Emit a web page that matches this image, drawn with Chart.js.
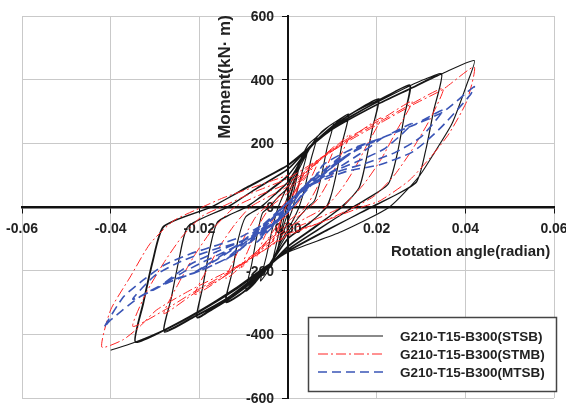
<!DOCTYPE html>
<html>
<head>
<meta charset="utf-8">
<title>Moment - rotation hysteresis</title>
<script src="https://cdn.jsdelivr.net/npm/chart.js@4.4.1/dist/chart.umd.min.js"></script>
<style>
  html, body { margin: 0; padding: 0; background: #fff; }
  #wrap { width: 566px; height: 403px; }
</style>
</head>
<body>
<div id="wrap"><canvas id="loopChart" width="566" height="403"></canvas></div>
<script>
'use strict';
/* ---------------------------------------------------------------- DATA */
const seriesNames = ['G210-T15-B300(STSB)', 'G210-T15-B300(STMB)', 'G210-T15-B300(MTSB)'];
const xTicks = [-0.06, -0.04, -0.02, 0, 0.02, 0.04, 0.06];
const yTicks = [-600, -400, -200, 0, 200, 400, 600];

// [rotation (rad), moment (kN·m)] for the STSB specimen, in loading order
const stsbLoops = [
  [0,0],[0.0012,65],[0.0025,128],[0.0014,55],[0.0004,0],[-0.001,-60],[-0.0025,-148],[-0.0013,-60],[-0.0003,0],[0.001,60],[0.0026,132],
  [0.0043,170],[0.003,100],[0.0016,25],[0.0008,-15],[-0.0015,-95],[-0.0038,-190],[-0.0026,-115],[-0.0012,-25],[-0.0004,20],[0.0015,90],[0.0042,166],
  [0.0066,222],[0.0052,150],[0.0038,60],[0.0025,0],[0.001,-45],[-0.002,-120],[-0.0045,-200],[-0.0062,-232],[-0.0048,-150],[-0.0034,-60],[-0.0022,0],[-0.0008,45],[0.002,125],[0.0045,195],[0.0065,220],
  [0.0102,262],[0.0088,185],[0.0075,95],[0.006,20],[0.0045,0],[0.002,-40],[0,-80],[-0.004,-175],[-0.0075,-240],[-0.0095,-264],[-0.0082,-180],[-0.007,-90],[-0.0058,-20],[-0.0042,0],[-0.002,35],[0,60],[0.004,170],[0.0075,235],[0.0103,264],
  [0.0136,290],[0.0122,200],[0.011,110],[0.0098,40],[0.0086,0],[0.005,-50],[0,-100],[-0.005,-200],[-0.01,-268],[-0.014,-300],[-0.0125,-200],[-0.0112,-100],[-0.0095,-30],[-0.006,0],[-0.003,40],[0,80],[0.005,190],[0.01,255],[0.0137,292],
  [0.0123,205],[0.0111,118],[0.0099,45],[0.0088,0],[0.005,-48],[0,-98],[-0.005,-195],[-0.01,-265],[-0.0141,-298],[-0.0126,-205],[-0.0113,-105],[-0.0096,-32],[-0.0062,0],[-0.003,38],[0,78],[0.005,185],[0.01,250],[0.0136,288],
  [0.017,315],[0.0204,338],[0.019,245],[0.0175,140],[0.016,60],[0.012,0],[0.006,-65],[0,-125],[-0.006,-212],[-0.012,-278],[-0.017,-322],[-0.0205,-348],[-0.0192,-250],[-0.0176,-130],[-0.0158,-45],[-0.0093,0],[-0.005,45],[0,100],[0.005,190],[0.01,252],[0.015,300],[0.0205,340],
  [0.0191,250],[0.0176,145],[0.0161,62],[0.0122,0],[0.006,-62],[0,-122],[-0.006,-208],[-0.012,-275],[-0.017,-318],[-0.0206,-346],[-0.0193,-255],[-0.0177,-135],[-0.0159,-48],[-0.0095,0],[-0.005,42],[0,98],[0.005,188],[0.01,250],[0.015,298],[0.0204,336],
  [0.024,362],[0.0275,383],[0.0262,285],[0.0246,165],[0.0225,70],[0.0146,0],[0.007,-70],[0,-135],[-0.007,-218],[-0.014,-292],[-0.021,-345],[-0.0279,-393],[-0.0263,-285],[-0.0245,-160],[-0.0225,-60],[-0.0135,0],[-0.007,60],[0,120],[0.005,192],[0.01,250],[0.015,292],[0.02,330],[0.0276,382],
  [0.0263,290],[0.0247,170],[0.0226,72],[0.0148,0],[0.007,-68],[0,-132],[-0.007,-214],[-0.014,-288],[-0.021,-342],[-0.028,-390],[-0.0264,-290],[-0.0246,-165],[-0.0226,-62],[-0.0137,0],[-0.007,58],[0,118],[0.005,190],[0.01,248],[0.015,290],[0.02,328],[0.0274,380],
  [0.031,402],[0.0347,418],[0.0328,300],[0.031,175],[0.0288,75],[0.0187,0],[0.009,-72],[0,-140],[-0.006,-200],[-0.012,-262],[-0.02,-330],[-0.0279,-388],[-0.0344,-425],[-0.0326,-305],[-0.0305,-175],[-0.028,-62],[-0.0172,0],[-0.009,65],[0,133],[0.005,190],[0.01,245],[0.015,285],[0.02,322],[0.0275,372],[0.0346,416],
  [0.0329,305],[0.0311,180],[0.0289,78],[0.019,0],[0.009,-70],[0,-138],[-0.006,-198],[-0.012,-260],[-0.02,-328],[-0.0279,-386],[-0.0345,-423],[-0.0327,-300],[-0.0306,-170],[-0.0281,-60],[-0.0174,0],[-0.009,62],[0,130],[0.005,188],[0.01,243],[0.02,320],[0.0275,370],[0.035,420],
  [0.042,460],[0.0404,388],[0.037,262],[0.033,170],[0.0295,95],[0.0229,0],[0.012,-78],[0,-142],[-0.006,-196],[-0.012,-256],[-0.02,-326],[-0.028,-386],[-0.035,-427],[-0.040,-450]
];

// STMB specimen
const stmbLoops = [
  [0,0],[0.0035,105],[0.002,50],[0.0005,0],[-0.0015,-45],[-0.0035,-110],[-0.002,-55],[-0.0005,0],[0.0015,50],
  [0.004,100],[0.007,150],[0.0055,100],[0.003,30],[0.0015,0],[-0.002,-50],[-0.005,-110],[-0.007,-155],[-0.0055,-100],[-0.003,-30],[-0.0015,0],[0.002,55],
  [0.006,130],[0.0105,190],[0.0085,120],[0.0065,60],[0.004,0],[0,-45],[-0.005,-110],[-0.0105,-190],[-0.0085,-120],[-0.0065,-55],[-0.004,0],[0,45],
  [0.005,120],[0.01,180],[0.014,228],[0.0118,160],[0.0095,90],[0.007,30],[0.005,0],[0,-55],[-0.006,-125],[-0.01,-180],[-0.014,-225],[-0.0118,-155],[-0.0095,-85],[-0.007,-25],[-0.005,0],[0,55],
  [0.006,135],[0.014,215],[0.021,280],[0.018,200],[0.015,120],[0.012,55],[0.0085,0],[0.004,-35],[0,-65],[-0.007,-140],[-0.014,-215],[-0.021,-275],[-0.018,-190],[-0.015,-115],[-0.012,-55],[-0.0085,0],[-0.004,35],[0,65],
  [0.007,150],[0.014,220],[0.021,275],[0.028,332],[0.0245,240],[0.021,150],[0.017,70],[0.012,0],[0.006,-40],[0,-75],[-0.007,-145],[-0.014,-215],[-0.021,-270],[-0.028,-335],[-0.0245,-235],[-0.021,-150],[-0.017,-70],[-0.012,0],[-0.006,40],[0,75],
  [0.007,150],[0.014,215],[0.021,270],[0.028,325],[0.035,372],[0.032,275],[0.028,180],[0.024,100],[0.0195,35],[0.015,0],[0.008,-45],[0,-85],[-0.007,-150],[-0.014,-210],[-0.021,-265],[-0.028,-325],[-0.035,-375],[-0.032,-270],[-0.028,-175],[-0.024,-95],[-0.0195,-30],[-0.015,0],[-0.008,45],[0,90],
  [0.007,150],[0.014,210],[0.021,265],[0.028,320],[0.035,370],[0.042,440],[0.0404,335],[0.0363,230],[0.0322,157],[0.0273,83],[0.0208,20],[0.0167,0],[0.009,-40],[0,-90],[-0.007,-150],[-0.014,-205],[-0.022,-261],[-0.0296,-323],[-0.0334,-375],[-0.0372,-417],[-0.042,-440],
  [-0.04,-323],[-0.0356,-220],[-0.0311,-115],[-0.0258,-43],[-0.0193,0],[-0.0144,30],[-0.0078,62],[0,100]
];

// MTSB specimen
const mtsbLoops = [
  [0,0],[0.0035,60],[0.001,15],[-0.0035,-60],[-0.001,-15],[0,0],
  [0.003,50],[0.007,110],[0.004,70],[0,10],[-0.003,-45],[-0.007,-110],[-0.004,-70],[0,-10],
  [0.004,70],[0.009,125],[0.014,168],[0.01,125],[0.005,75],[0,15],[-0.005,-60],[-0.01,-115],[-0.014,-165],[-0.01,-125],[-0.005,-75],[0,-15],
  [0.005,65],[0.01,125],[0.015,175],[0.021,215],[0.016,165],[0.011,120],[0.005,70],[0,15],[-0.006,-60],[-0.012,-125],[-0.017,-170],[-0.021,-205],[-0.016,-165],[-0.011,-120],[-0.005,-70],[0,-15],
  [0.005,65],[0.01,130],[0.015,178],[0.021,215],[0.028,262],[0.022,185],[0.016,145],[0.01,110],[0.005,70],[0,15],[-0.006,-65],[-0.012,-125],[-0.018,-165],[-0.023,-200],[-0.028,-240],[-0.022,-180],[-0.016,-140],[-0.01,-105],[-0.005,-65],[0,-15],
  [0.005,70],[0.0132,174],[0.0207,215],[0.0283,257],[0.035,305],[0.03,220],[0.024,170],[0.017,135],[0.011,110],[0.005,70],[0,15],[-0.006,-70],[-0.0123,-150],[-0.0198,-200],[-0.0266,-235],[-0.035,-290],[-0.03,-215],[-0.024,-170],[-0.017,-135],[-0.011,-110],[-0.005,-70],[0,-15],
  [0.005,70],[0.008,133],[0.0132,174],[0.0207,215],[0.0283,257],[0.035,299],[0.042,378],[0.041,350],[0.0343,247],[0.0282,174],[0.0207,133],[0.0132,112],[0.0057,72],[0,15],
  [-0.006,-75],[-0.0123,-150],[-0.0198,-200],[-0.0266,-232],[-0.0334,-282],[-0.04,-355],[-0.0415,-378],
  [-0.0371,-282],[-0.0327,-230],[-0.028,-183],[-0.022,-147],[-0.016,-120],[-0.0108,-95],[-0.005,-50],[0,0]
];

/* ---------------------------------------------------------------- HELPERS */
const FONT = '"Liberation Sans", Arial, sans-serif';

function toPoints(pairs){
  return pairs.map(p => ({x: p[0], y: p[1]}));
}
//turns [x, y] pairs into objects chart.js reads

function hideZeroGrid(ctx){
  return ctx.tick && ctx.tick.value === 0 ? 'rgba(0,0,0,0)' : '#c9c9c9';
}
//the zero lines are drawn by the axis borders instead

/* ---------------------------------------------------------------- PLUGINS */
const yTickLabels = {
  id: 'yTickLabels',
  beforeDatasetsDraw(chart){
    const ctx = chart.ctx;
    const yScale = chart.scales.y;
    const axisX = chart.scales.x.getPixelForValue(0);
    ctx.save();
    ctx.fillStyle = '#222';
    ctx.font = 'bold 14px ' + FONT;
    ctx.textAlign = 'right';
    ctx.textBaseline = 'middle';
    for (const tick of yScale.ticks){
      ctx.fillText(String(tick.value), axisX - 14, yScale.getPixelForValue(tick.value) + 1);
    }
    ctx.restore();
  }
};
//y labels sit left of the crossing axis, under the loops as in the source figure

const axisTitles = {
  id: 'axisTitles',
  afterDraw(chart){
    const ctx = chart.ctx;
    ctx.save();
    ctx.fillStyle = '#222';
    ctx.font = 'bold 15px ' + FONT;
    ctx.textBaseline = 'alphabetic';
    ctx.textAlign = 'left';
    ctx.fillText('Rotation angle(radian)', 391, 256);
    ctx.translate(225, 77);
    ctx.rotate(-Math.PI / 2);
    ctx.font = 'bold 17px ' + FONT;
    ctx.textAlign = 'center';
    ctx.textBaseline = 'middle';
    ctx.fillText('Moment(kN\u00b7 m)', 0, 0);
    ctx.restore();
  }
};

const boxLegend = {
  id: 'boxLegend',
  afterDraw(chart){
    const ctx = chart.ctx;
    ctx.save();
    ctx.fillStyle = '#fff';
    ctx.fillRect(308, 317, 248, 74);
    ctx.strokeStyle = '#444';
    ctx.lineWidth = 1.5;
    ctx.strokeRect(308.5, 317.5, 248, 74);
    chart.data.datasets.forEach((ds, i) => {
      const y = 336 + i * 18;
      ctx.strokeStyle = ds.borderColor;
      ctx.lineWidth = ds.borderWidth;
      ctx.setLineDash(ds.borderDash || []);
      ctx.beginPath();
      ctx.moveTo(318, y);
      ctx.lineTo(383, y);
      ctx.stroke();
      ctx.setLineDash([]);
      ctx.fillStyle = '#222';
      ctx.font = 'bold 13.5px ' + FONT;
      ctx.textAlign = 'left';
      ctx.textBaseline = 'middle';
      ctx.fillText(ds.label, 400, y + 1);
    });
    ctx.restore();
  }
};

/* ---------------------------------------------------------------- CHART */
const loopChart = new Chart(document.getElementById('loopChart'), {
  type: 'scatter',
  data: {
    datasets: [{
      label: seriesNames[0],
      data: toPoints(stsbLoops),
      showLine: true,
      borderColor: '#161616',
      borderWidth: 1.1,
      pointRadius: 0,
      tension: 0.2,
      order: 2
    }, {
      label: seriesNames[1],
      data: toPoints(stmbLoops),
      showLine: true,
      borderColor: '#ff2424',
      borderWidth: 1,
      borderDash: [10, 3, 2, 3],
      pointRadius: 0,
      tension: 0.2,
      order: 1
    }, {
      label: seriesNames[2],
      data: toPoints(mtsbLoops),
      showLine: true,
      borderColor: '#3a55b6',
      borderWidth: 1.6,
      borderDash: [9, 5],
      pointRadius: 0,
      tension: 0.2,
      order: 0
    }]
  },
  options: {
    responsive: false,
    animation: false,
    devicePixelRatio: 1,
    layout: { padding: { left: 22, right: 12, top: 16, bottom: 5 } },
    plugins: {
      legend: { display: false },
      tooltip: { enabled: false }
    },
    scales: {
      x: {
        type: 'linear',
        min: xTicks[0],
        max: xTicks[xTicks.length - 1],
        position: { y: 0 },
        afterBuildTicks: scale => { scale.ticks = xTicks.map(v => ({value: v})); },
        afterFit: scale => { scale.paddingLeft = 0; scale.paddingRight = 0; },
        ticks: {
          autoSkip: false,
          maxRotation: 0,
          padding: 9,
          color: '#222',
          font: { family: FONT, size: 14, weight: 'bold' },
          callback: v => (Math.abs(v) < 1e-9 ? 0 : v).toFixed(2)
        },
        grid: { color: hideZeroGrid, lineWidth: 1, tickColor: '#111', tickLength: 5 },
        border: { color: '#111', width: 2.5 }
      },
      y: {
        type: 'linear',
        min: yTicks[0],
        max: yTicks[yTicks.length - 1],
        position: { x: 0 },
        afterBuildTicks: scale => { scale.ticks = yTicks.map(v => ({value: v})); },
        afterFit: scale => { scale.paddingTop = 0; scale.paddingBottom = 0; },
        ticks: { display: false },
        grid: { color: hideZeroGrid, lineWidth: 1, tickColor: '#111', tickLength: 5 },
        border: { color: '#111', width: 2 }
      }
    }
  },
  plugins: [yTickLabels, axisTitles, boxLegend]
});
</script>
</body>
</html>
